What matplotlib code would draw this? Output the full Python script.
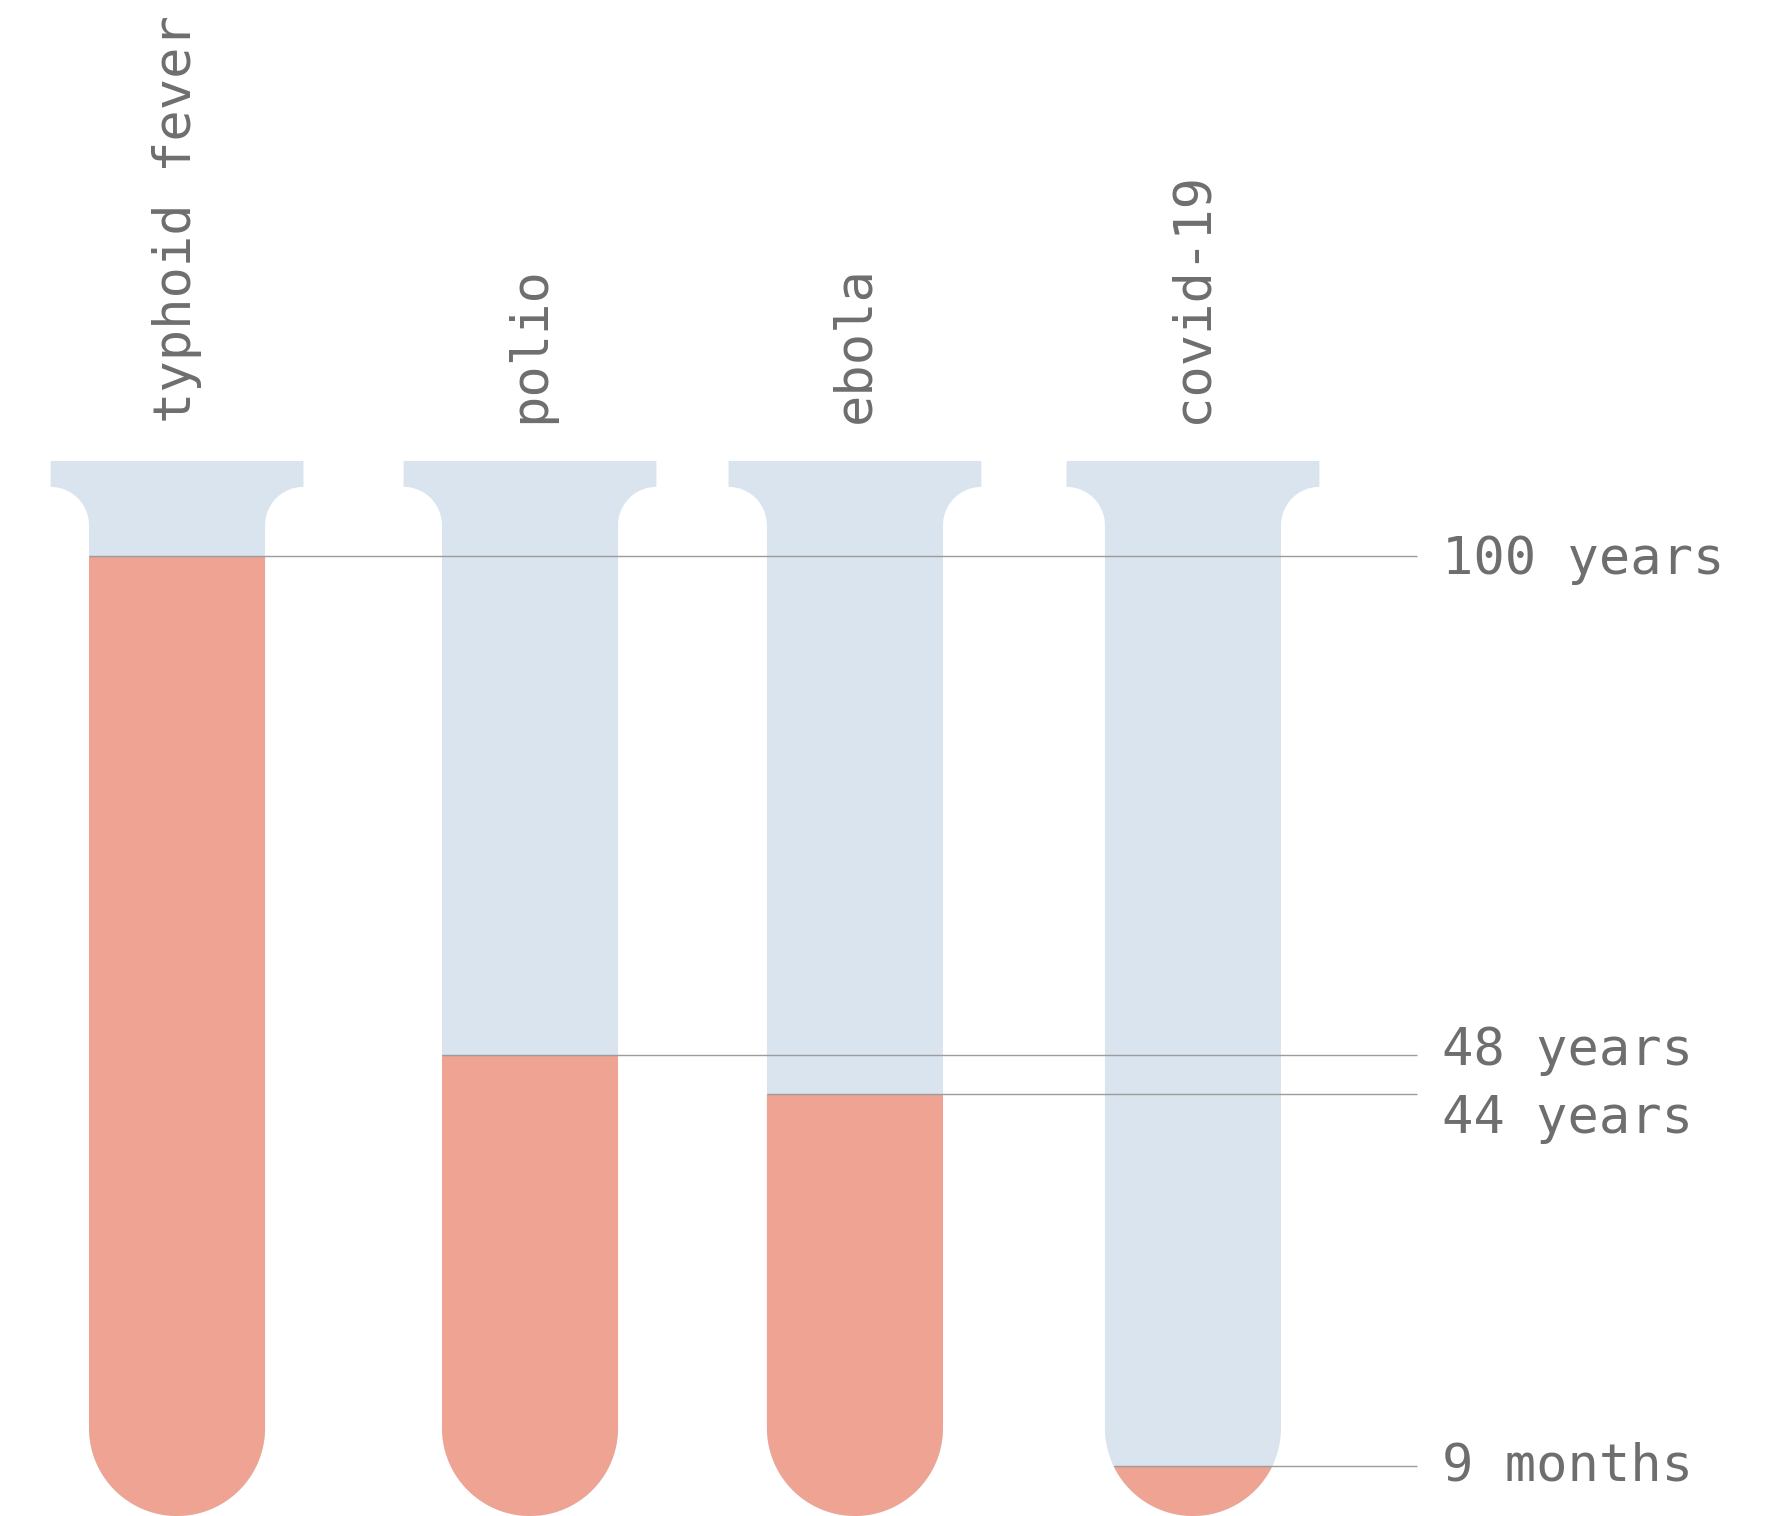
import matplotlib.pyplot as plt
import numpy as np
from matplotlib.path import Path
from matplotlib.patches import PathPatch

# data
diseases = ['typhoid fever', 'polio', 'ebola', 'covid-19']
years_to_vaccine = [100, 48, 44, 0.75]
value_labels = ['100 years', '48 years', '44 years', '9 months']

# layout (axis units are "years", same scale on x so circles stay round)
tube_x = [18.44, 55.21, 89.06, 124.27]
label_offsets = [-3, 3, -18, 0]  # points, so 48/44 labels don't collide
min_visible = 5.2                # tiny values are shown with a minimum level

TUBE_BLUE = '#d9e4ef'
FILL_RED = '#eea393'
LINE_GREY = '#9c9c9c'
TEXT_GREY = '#6e6e6e'
FONT = 'DejaVu Sans Mono'
FSIZE = 37.5

half_w = 9.17
flange_top = 109.9
flange_bot = 107.2
lip = 4.0
line_end = 147.6
label_x = 150.2


def arc(cx, cy, r, a0, a1, n=40):
    t = np.radians(np.linspace(a0, a1, n))
    return np.column_stack([cx + r * np.cos(t), cy + r * np.sin(t)])


def tube_path(c):
    """
    Outline of a test tube: flange on top, straight walls, round bottom.
    """
    pts = [
        [[c - half_w - lip, flange_top], [c + half_w + lip, flange_top],
         [c + half_w + lip, flange_bot]],
        arc(c + half_w + lip, flange_bot - lip, lip, 90, 180),
        [[c + half_w, half_w]],
        arc(c, half_w, half_w, 0, -180, 80),
        [[c - half_w, flange_bot - lip]],
        arc(c - half_w - lip, flange_bot - lip, lip, 0, 90),
    ]
    verts = np.vstack([np.asarray(p, dtype=float) for p in pts])
    verts = np.vstack([verts, verts[:1]])
    codes = [Path.MOVETO] + [Path.LINETO] * (len(verts) - 2) + [Path.CLOSEPOLY]
    return Path(verts, codes)


fig = plt.figure(figsize=(17.92, 15.16), dpi=100)
ax = fig.add_axes([0, 0, 1, 1])
ax.set_xlim(0, 186.67)
ax.set_ylim(0, 157.92)
ax.set_aspect('equal')
ax.axis('off')

for c, name, v, lab, off in zip(tube_x, diseases, years_to_vaccine,
                                value_labels, label_offsets):
    tube = PathPatch(tube_path(c), facecolor=TUBE_BLUE, edgecolor='none', zorder=1)
    ax.add_patch(tube)

    level = max(v, min_visible)
    bars = ax.bar(c, level, width=2 * half_w + 0.2, bottom=0,
                  color=FILL_RED, zorder=2)
    for b in bars:
        b.set_clip_path(tube)

    # where the fill level meets the tube wall
    if level < half_w:
        chord = np.sqrt(half_w ** 2 - (half_w - level) ** 2)
    else:
        chord = half_w
    ax.plot([c - chord, line_end], [level, level], color=LINE_GREY,
            lw=1.0, zorder=3, solid_capstyle='butt')

    ax.annotate(lab, xy=(label_x, level), xytext=(0, off),
                textcoords='offset points', ha='left', va='center',
                fontsize=FSIZE, color=TEXT_GREY, family=FONT)

    ax.text(c, 113.9, name, rotation=90, ha='center', va='bottom',
            fontsize=FSIZE, color=TEXT_GREY, family=FONT)

plt.savefig('out.png', dpi=100)
plt.close()
